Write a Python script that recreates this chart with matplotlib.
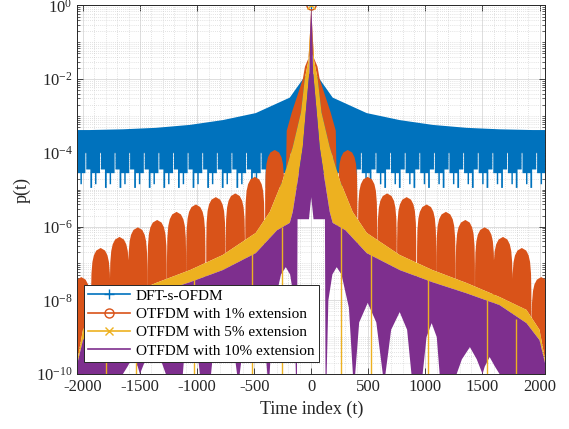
import numpy as np
import matplotlib
matplotlib.use("Agg")
import matplotlib.pyplot as plt
from matplotlib.ticker import MultipleLocator, LogLocator, NullFormatter

plt.rcParams['font.family'] = ['Liberation Serif', 'DejaVu Serif']
plt.rcParams['mathtext.fontset'] = 'custom'
plt.rcParams['mathtext.rm'] = 'Liberation Serif'
plt.rcParams['mathtext.it'] = 'Liberation Serif:italic'
plt.rcParams['axes.unicode_minus'] = False

C_BLUE = '#0072BD'
C_ORANGE = '#D95319'
C_YELLOW = '#EDB120'
C_PURPLE = '#7E2F8E'

labels = ['DFT-s-OFDM', 'OTFDM with 1% extension',
          'OTFDM with 5% extension', 'OTFDM with 10% extension']

# envelopes, right half only (t >= 0), log10 p(t).
# the chart is mirror symmetric about t = 0
blue_t = [0, 2, 40, 74, 188, 486, 775, 1063, 1361, 1650, 1939, 2048]
blue_top = [0, -1.85, -1.88, -2.0, -2.5, -2.92, -3.11, -3.24, -3.32, -3.36, -3.38, -3.38]

# lower edge of the blue band: one tooth, repeated every 128 samples
tooth_period = 128
tooth_frac = [0.0, 0.12, 0.12, 0.40, 0.40, 0.46, 0.46, 0.70, 0.70, 0.80, 0.80, 1.0]
tooth_log = [-4.95, -4.95, -4.45, -4.45, -4.0, -4.0, -4.55, -4.55, -4.85, -4.85, -4.55, -4.55]

orange_main_t = [0, 3, 20, 55, 74, 170, 215, 235]
orange_main_top = [0, -1.3, -1.4, -1.66, -2.0, -2.9, -3.4, -7.0]
# side lobes (the arches): centre and peak
orange_lobe_t = [320, 494, 665, 836, 1011, 1180, 1350, 1519, 1680, 1845, 2015]
orange_lobe_top = [-3.92, -4.65, -5.1, -5.2, -5.4, -5.6, -5.82, -6.02, -6.28, -6.58, -7.37]
lobe_half = 85
lobe_frac = [-1.0, -0.985, -0.95, -0.85, -0.7, -0.45, 0, 0.45, 0.7, 0.85, 0.95, 0.985, 1.0]
lobe_drop = [-3.0, -1.2, -0.7, -0.38, -0.2, -0.07, 0, -0.07, -0.2, -0.38, -0.7, -1.2, -3.0]

yel_t = [0, 10, 25, 57, 90, 162, 250, 363, 486, 775, 1063, 1361, 1650, 1886, 2000, 2048]
yel_top = [0, -0.7, -1.5, -2.0, -2.9, -3.84, -4.74, -5.6, -6.17, -6.77, -7.18, -7.53, -7.91, -8.26, -8.8, -9.6]
yel_spike_t = [258, 520, 1025, 1536, 1798]
yel_spike_top = [-6.0, -6.7, -7.4, -8.0, -8.5]

pur_t = [0, 8, 16, 48, 74, 118, 162, 188, 300, 486, 775, 1063, 1361, 1650, 1886, 2000, 2048]
pur_top = [0, -0.6, -1.8, -2.9, -3.84, -4.74, -5.6, -5.9, -6.1, -6.72, -7.18, -7.51, -7.81, -8.13, -8.62, -9.08, -9.7]
pur_low_t = [0, 20, 120, 125, 135, 150, 185, 223, 265, 330, 365, 385, 420, 495, 570, 627, 650, 700,
             775, 840, 878, 976, 1010, 1055, 1100, 1125, 1274, 1320, 1390, 1450, 1501, 1520, 1563,
             1610, 1650, 2048]
pur_low = [-5.2, -5.8, -5.8, -10, -10, -8.0, -7.3, -7.1, -7.3, -8.2, -10, -10, -8.6, -8.07, -8.6, -10,
           -10, -8.8, -8.32, -8.8, -10, -10, -9.0, -8.62, -9.0, -10, -10, -9.6, -9.27, -9.6, -10,
           -9.8, -9.54, -9.8, -10, -10]


def mirror(t, v):
    t = np.asarray(t, float)
    v = np.asarray(v, float)
    return np.concatenate([-t[:0:-1], t]), np.concatenate([v[:0:-1], v])


def band(ax, t_up, v_up, t_lo, v_lo, color):
    tu, vu = mirror(t_up, v_up)
    tl, vl = mirror(t_lo, v_lo)
    xs = np.concatenate([tu, tl[::-1]])
    ys = 10.0 ** np.concatenate([vu, vl[::-1]])
    ax.fill(xs, ys, color=color, lw=0)


# build the tooth edge and the orange lobes from the read pieces
tooth_t, tooth_v = [], []
for k in range(2048 // tooth_period):
    tooth_t.extend(k * tooth_period + tooth_period * np.array(tooth_frac))
    tooth_v.extend(tooth_log)

orange_t = list(orange_main_t)
orange_top = list(orange_main_top)
for c, p in zip(orange_lobe_t, orange_lobe_top):
    orange_t.extend(c + lobe_half * np.array(lobe_frac))
    orange_top.extend(p + np.array(lobe_drop))

fig = plt.figure(figsize=(5.69, 4.29), dpi=100)
ax = fig.add_axes([0.1362, 0.1282, 0.8216, 0.859])

band(ax, blue_t, blue_top, tooth_t, tooth_v, C_BLUE)
band(ax, orange_t, orange_top, yel_t, yel_top, C_ORANGE)
band(ax, yel_t, yel_top, pur_t, pur_top, C_YELLOW)
spk_t = np.concatenate([-np.array(yel_spike_t), yel_spike_t])
spk_top = 10.0 ** np.concatenate([yel_spike_top, yel_spike_top])
ax.vlines(spk_t, 1e-10, spk_top, color=C_YELLOW, lw=1.0)
band(ax, pur_t, pur_top, pur_low_t, pur_low, C_PURPLE)

# t = 0 samples with their markers (also give the legend its entries)
ax.plot(blue_t[:1], [10.0 ** blue_top[0]], '-+', color=C_BLUE, ms=7, mew=1.0, lw=1.2, label=labels[0])
ax.plot(orange_t[:1], [10.0 ** orange_top[0]], '-o', color=C_ORANGE, mfc='none', ms=6.5, mew=1.0,
        lw=1.2, label=labels[1])
ax.plot(yel_t[:1], [10.0 ** yel_top[0]], '-x', color=C_YELLOW, ms=6, mew=1.0, lw=1.2, label=labels[2])
ax.plot(pur_t[:1], [10.0 ** pur_top[0]], '-', color=C_PURPLE, lw=1.2, label=labels[3])

ax.set_yscale('log')
ax.set_xlim(-2048, 2048)
ax.set_ylim(1e-10, 1)

ax.xaxis.set_major_locator(MultipleLocator(500))
ax.xaxis.set_minor_locator(MultipleLocator(100))
yt = 10.0 ** np.arange(-10, 1, 2)
ax.set_yticks(yt, ['$10^{%d}$' % e for e in range(-10, 1, 2)])
ax.yaxis.set_minor_locator(LogLocator(base=10, subs=np.arange(1, 10), numticks=30))
ax.yaxis.set_minor_formatter(NullFormatter())

ax.set_axisbelow(True)
ax.grid(True, which='major', color='#d8d8d8', lw=0.6, ls='-')
ax.grid(True, which='minor', color='#c8c8c8', lw=0.5, ls=(0, (1, 2)))

ax.tick_params(which='both', direction='in', top=True, right=True, colors='#262626',
               labelsize=12, labelcolor='#262626')
ax.tick_params(which='major', length=4.5, width=0.6)
ax.tick_params(which='minor', length=2.5, width=0.5)
ax.tick_params(axis='x', which='minor', length=0)
for s in ax.spines.values():
    s.set_color('#262626')
    s.set_linewidth(0.7)

ax.set_xlabel('Time index (t)', fontsize=13, color='#262626', labelpad=4)
ax.set_ylabel('p(t)', fontsize=13, color='#262626', labelpad=4)

leg = ax.legend(loc='lower left', bbox_to_anchor=(0.013, 0.032), borderaxespad=0,
                fontsize=11, handlelength=2.75, handletextpad=0.35, labelspacing=0.3,
                borderpad=0.3, fancybox=False, framealpha=1, edgecolor='#262626')
leg.get_frame().set_linewidth(0.7)

fig.savefig('out.png', dpi=100)
